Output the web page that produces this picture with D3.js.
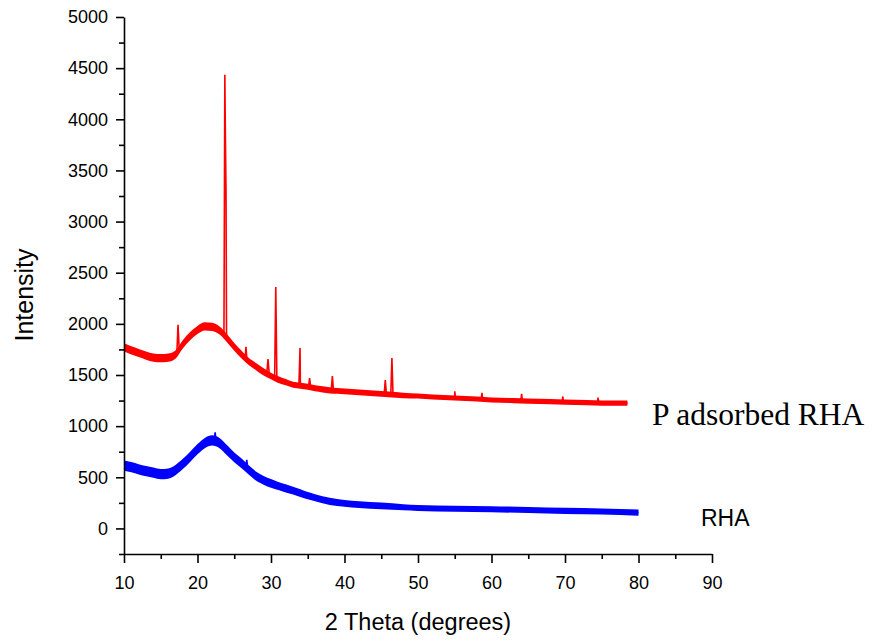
<!DOCTYPE html>
<html>
<head>
<meta charset="utf-8">
<script src="https://cdn.jsdelivr.net/npm/d3@7"></script>
<style>
  body { margin: 0; background: #fff; }
  svg { display: block; }
  .axis text { font-family: "Liberation Sans", Arial, sans-serif; font-size: 18px; fill: #000; }
  .axis path, .axis line { stroke: #000; stroke-width: 1.6px; }
</style>
</head>
<body>
<div id="chart"></div>
<script>
// 2 theta ticks
const xTicks = [10, 20, 30, 40, 50, 60, 70, 80, 90];
const yTicks = [0, 500, 1000, 1500, 2000, 2500, 3000, 3500, 4000, 4500, 5000];

// P adsorbed RHA: background [2theta, intensity, noise band width]
const redBase = [
  [10, 1770, 80], [11, 1740, 80], [12, 1715, 80], [13, 1690, 80], [14, 1670, 80],
  [15, 1665, 80], [16, 1670, 80], [17, 1700, 80], [18, 1800, 80], [19, 1880, 80],
  [20, 1940, 80], [21, 1975, 80], [22, 1970, 80], [23, 1935, 80], [24, 1860, 80],
  [25, 1775, 75], [26, 1700, 75], [27, 1630, 70], [28, 1580, 70], [29, 1530, 70],
  [30, 1490, 65], [31, 1455, 65], [32, 1430, 60], [33, 1405, 60], [34, 1395, 60],
  [35, 1385, 60], [36, 1370, 60], [37, 1360, 60], [38, 1350, 60], [39, 1345, 55],
  [40, 1340, 55], [42, 1330, 55], [44, 1320, 55], [46, 1310, 55], [48, 1300, 55],
  [50, 1295, 50], [52, 1285, 50], [55, 1275, 50], [58, 1265, 50], [60, 1255, 50],
  [63, 1250, 50], [65, 1245, 50], [68, 1240, 50], [70, 1235, 50], [73, 1230, 50],
  [75, 1225, 50], [78.5, 1225, 50]
];
// P adsorbed RHA: sharp reflections [2theta, intensity]
const redPeaks = [
  [17.2, 1730], [17.35, 1990], [17.5, 1770],
  [23.6, 1915], [23.72, 4435], [23.8, 3800], [23.88, 3300], [23.95, 1880],
  [26.5, 1690], [26.6, 1775], [26.7, 1670],
  [29.45, 1540], [29.6, 1655], [29.75, 1515], [30.1, 1470],
  [30.5, 1480], [30.65, 2360], [30.8, 1460],
  [33.8, 1400], [33.95, 1765], [34.1, 1415],
  [35.1, 1385], [35.25, 1470], [35.4, 1380],
  [38.2, 1352], [38.35, 1490], [38.5, 1348],
  [45.4, 1316], [45.55, 1450], [45.7, 1313],
  [46.3, 1312], [46.45, 1665], [46.6, 1309],
  [54.9, 1277], [55.0, 1340], [55.1, 1275],
  [58.6, 1264], [58.7, 1325], [58.8, 1263],
  [64.0, 1248], [64.1, 1317], [64.2, 1247],
  [69.6, 1236], [69.7, 1290], [69.8, 1235],
  [74.4, 1226], [74.5, 1280], [74.6, 1226]
];

// RHA: background [2theta, intensity, noise band width]
const blueBase = [
  [10, 615, 100], [11, 600, 100], [12, 578, 100], [13, 560, 100], [14, 545, 100],
  [15, 530, 100], [16, 535, 100], [17, 570, 100], [18, 630, 100], [19, 700, 100],
  [20, 775, 100], [21, 835, 100], [22, 860, 100], [23, 835, 100], [24, 765, 100],
  [25, 695, 95], [26, 635, 95], [27, 570, 90], [28, 510, 90], [29, 470, 85],
  [30, 440, 85], [31, 415, 80], [32, 392, 80], [33, 370, 75], [34, 345, 75],
  [35, 320, 70], [36, 300, 70], [38, 265, 70], [40, 245, 65], [42, 232, 65],
  [45, 220, 65], [48, 207, 60], [50, 200, 60], [55, 192, 60], [60, 188, 60],
  [65, 180, 60], [70, 172, 60], [75, 165, 60], [80, 155, 60]
];
const bluePeaks = [
  [22.3, 880], [22.4, 940], [22.5, 870],
  [26.6, 620], [26.7, 670], [26.8, 610]
];

const width = 874, height = 643;
const margin = { left: 124, right: 162, top: 17, bottom: 89 };

const svg = d3.select("#chart").append("svg")
  .attr("width", width)
  .attr("height", height);

const x = d3.scaleLinear().domain([10, 90]).range([margin.left, width - margin.right]);
const y = d3.scaleLinear().domain([-250, 5000]).range([height - margin.bottom, margin.top]);

function drawSeries(base, peaks, color) {
  // noisy background band
  const band = d3.area()
    .x(d => x(d[0]))
    .y0(d => y(d[1] - d[2] / 2))
    .y1(d => y(d[1] + d[2] / 2))
    .curve(d3.curveMonotoneX);
  svg.append("path")
    .datum(base)
    .attr("d", band)
    .attr("fill", color);

  // thin trace with the sharp peaks
  const pts = base.map(d => [d[0], d[1]]).concat(peaks).sort((a, b) => a[0] - b[0]);
  const line = d3.line()
    .x(d => x(d[0]))
    .y(d => y(d[1]));
  svg.append("path")
    .datum(pts)
    .attr("d", line)
    .attr("fill", "none")
    .attr("stroke", color)
    .attr("stroke-width", 1.6);
}

drawSeries(redBase, redPeaks, "#ff0000");
drawSeries(blueBase, bluePeaks, "#0000ff");

// axes
svg.append("g")
  .attr("class", "axis")
  .attr("transform", `translate(0,${y(-250)})`)
  .call(d3.axisBottom(x).tickValues(xTicks).tickFormat(d3.format("d"))
    .tickSize(9).tickSizeOuter(0).tickPadding(13));

svg.append("g")
  .attr("class", "axis")
  .attr("transform", `translate(0,${y(-250)})`)
  .call(d3.axisBottom(x).tickValues(d3.range(15, 90, 10)).tickSize(5).tickFormat(""))
  .select(".domain").remove();

svg.append("g")
  .attr("class", "axis")
  .attr("transform", `translate(${x(10)},0)`)
  .call(d3.axisLeft(y).tickValues(yTicks).tickFormat(d3.format("d"))
    .tickSize(8).tickSizeOuter(0).tickPadding(8));

svg.append("g")
  .attr("class", "axis")
  .attr("transform", `translate(${x(10)},0)`)
  .call(d3.axisLeft(y).tickValues(d3.range(-250, 5000, 500)).tickSize(5).tickFormat(""))
  .select(".domain").remove();

// axis titles
svg.append("text")
  .attr("x", (x(10) + x(90)) / 2)
  .attr("y", 630)
  .attr("text-anchor", "middle")
  .style("font-family", "Liberation Sans, Arial, sans-serif")
  .style("font-size", "23.5px")
  .text("2 Theta (degrees)");

svg.append("text")
  .attr("transform", "translate(33,295) rotate(-90)")
  .attr("text-anchor", "middle")
  .style("font-family", "Liberation Sans, Arial, sans-serif")
  .style("font-size", "25px")
  .text("Intensity");

// series labels
svg.append("text")
  .attr("x", 652)
  .attr("y", 425)
  .style("font-family", "Liberation Serif, Times New Roman, serif")
  .style("font-size", "31.5px")
  .text("P adsorbed RHA");

svg.append("text")
  .attr("x", 701)
  .attr("y", 526)
  .style("font-family", "Liberation Sans, Arial, sans-serif")
  .style("font-size", "23px")
  .text("RHA");
</script>
</body>
</html>
